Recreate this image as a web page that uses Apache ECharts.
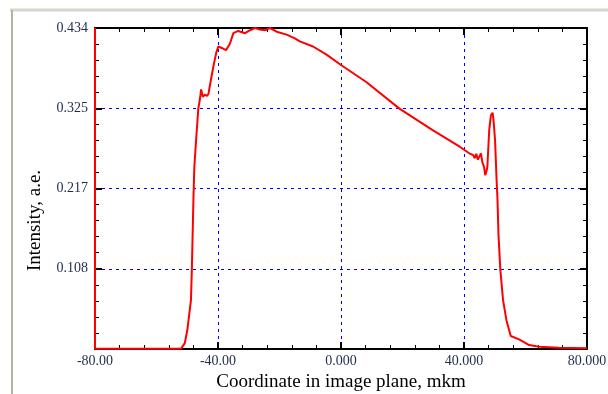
<!DOCTYPE html>
<html>
<head>
<meta charset="utf-8">
<script src="https://cdn.jsdelivr.net/npm/echarts@6/dist/echarts.min.js"></script>
<style>
  html, body { margin: 0; padding: 0; background: #fff; }
  #chart { width: 608px; height: 394px; }
</style>
</head>
<body>
<div id="chart"></div>
<script>
// profile
const coords = [-80, -80, -60, -52, -51.5, -50.8, -50, -49.4, -48.8, -48.5, -48.0, -47.7, -47.0, -46.4,
  -45.8, -45.5, -44.9, -44.3, -43.6, -43.1, -42.3, -41.5, -40.6, -39.9, -38.8, -37.4, -36.1, -35.0,
  -33.4, -31.2, -29.6, -28.0, -26.4, -24.7, -23.1, -20.9, -17.7, -15.0, -13.4, -9.1, -4.7, 0.0,
  8.2, 19.0, 29.8, 38.6, 41.7, 43.0, 43.5, 44.0, 44.5, 44.9, 45.5, 46.0, 46.5, 46.9, 47.3, 47.6,
  48.2, 48.75, 49.3, 49.6, 50.1, 50.6, 50.9, 51.2, 51.8, 52.7, 53.8, 55.2, 57.9, 61.2, 64.4, 70.9, 80];
const intensity = [0.434, 0.0005, 0.0005, 0.0005, 0.002, 0.008, 0.025, 0.045, 0.066, 0.108, 0.201,
  0.246, 0.29, 0.325, 0.340, 0.351, 0.341, 0.344, 0.342, 0.345, 0.364, 0.382, 0.400, 0.409, 0.407,
  0.404, 0.413, 0.427, 0.430, 0.427, 0.431, 0.434, 0.432, 0.431, 0.434, 0.429, 0.425, 0.420, 0.416,
  0.409, 0.398, 0.384, 0.361, 0.325, 0.296, 0.2735, 0.2646, 0.262, 0.258, 0.264, 0.256, 0.258,
  0.2645, 0.252, 0.2465, 0.235, 0.240, 0.2465, 0.296, 0.316, 0.3195, 0.3096, 0.2826, 0.2285,
  0.2015, 0.156, 0.108, 0.066, 0.039, 0.0176, 0.013, 0.0054, 0.0031, 0.0018, 0.001];
const xTickLabels = ['-80.00', '-40.00', '0.000', '40.000', '80.000'];
const yTickLabels = ['', '0.108', '0.217', '0.325', '0.434'];

const chart = echarts.init(document.getElementById('chart'), null, { renderer: 'canvas' });

const tickColor = '#1f2d4a';
const gridLine = { show: true, lineStyle: { color: '#0000ff', type: [3, 4], width: 1 } };
const axisLine = { show: true, onZero: false, lineStyle: { color: '#000', width: 2 } };
const majorTick = { show: true, inside: true, length: 7, lineStyle: { color: '#000', width: 2 } };
const minorTick = { show: true, splitNumber: 5, length: 4, lineStyle: { color: '#000', width: 1 } };

const xBase = { type: 'value', min: -80, max: 80, interval: 40, axisLine, axisTick: majorTick, minorTick };
const yBase = { type: 'value', min: 0, max: 0.434, interval: 0.1085, axisLine, axisTick: majorTick, minorTick };

chart.setOption({
  animation: false,
  backgroundColor: '#fff',
  grid: { left: 95, right: 21, top: 28, bottom: 45, containLabel: false, outerBoundsMode: 'none' },
  graphic: [
    { type: 'line', shape: { x1: 10, y1: 10, x2: 608, y2: 10 }, style: { stroke: '#d8d6cc', lineWidth: 3 } },
    { type: 'line', shape: { x1: 12, y1: 10, x2: 12, y2: 394 }, style: { stroke: '#b4b2a8', lineWidth: 2 } }
  ],
  xAxis: [
    Object.assign({}, xBase, {
      position: 'bottom',
      name: 'Coordinate in image plane, mkm',
      nameLocation: 'middle',
      nameGap: 24,
      nameTextStyle: { fontFamily: 'Liberation Serif', fontSize: 19, color: '#000' },
      splitLine: gridLine,
      axisLabel: {
        margin: 5,
        fontFamily: 'Liberation Serif', fontSize: 14, color: tickColor,
        formatter: (v) => xTickLabels[Math.round((v + 80) / 40)]
      }
    }),
    Object.assign({}, xBase, { position: 'top', splitLine: { show: false }, axisLabel: { show: false } })
  ],
  yAxis: [
    Object.assign({}, yBase, {
      position: 'left',
      name: 'Intensity, a.e.',
      nameLocation: 'middle',
      nameRotate: 90,
      nameGap: 50,
      nameTextStyle: { fontFamily: 'Liberation Serif', fontSize: 19, color: '#000', padding: [0, 64, 0, 0] },
      splitLine: gridLine,
      axisLabel: {
        margin: 7,
        fontFamily: 'Liberation Serif', fontSize: 14, color: tickColor,
        formatter: (v) => yTickLabels[Math.round(v / 0.1085)]
      }
    }),
    Object.assign({}, yBase, { position: 'right', splitLine: { show: false }, axisLabel: { show: false } })
  ],
  series: [{
    type: 'line',
    data: coords.map((x, i) => [x, intensity[i]]),
    showSymbol: false,
    smooth: false,
    lineStyle: { color: '#ff0000', width: 2 },
    z: 5
  }]
});
</script>
</body>
</html>
